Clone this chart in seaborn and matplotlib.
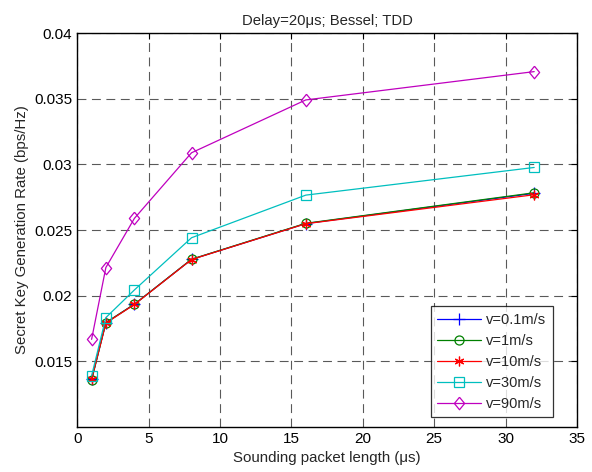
import numpy as np
import pandas as pd
import matplotlib
matplotlib.use("Agg")
import matplotlib.pyplot as plt
import seaborn as sns

sns.set_style("white")
plt.rcParams['font.family'] = ['Liberation Sans', 'DejaVu Sans']

# packet lengths (us)
packet_len = [1, 2, 4, 8, 16, 32]

# secret key generation rate per speed
rate_v01 = [0.01360, 0.01793, 0.01934, 0.02276, 0.02549, 0.02780]
rate_v1 = [0.01355, 0.01794, 0.01934, 0.02277, 0.02551, 0.02784]
rate_v10 = [0.01362, 0.01790, 0.01932, 0.02275, 0.02548, 0.02769]
rate_v30 = [0.01388, 0.01832, 0.02043, 0.02441, 0.02766, 0.02977]
rate_v90 = [0.01666, 0.02214, 0.02589, 0.03089, 0.03492, 0.03708]

labels = ['v=0.1m/s', 'v=1m/s', 'v=10m/s', 'v=30m/s', 'v=90m/s']
series = [rate_v01, rate_v1, rate_v10, rate_v30, rate_v90]
colors = [(0, 0, 1), (0, 0.5, 0), (1, 0, 0), (0, 0.75, 0.75), (0.75, 0, 0.75)]

# matlab style diamond (a bit taller than wide) and asterisk
diamond = [(0, 1), (0.82, 0), (0, -1), (-0.82, 0), (0, 1)]
markers = ['+', 'o', (6, 2, 0), 's', diamond]
msizes = [8, 6.5, 7, 7, 9]

fig = plt.figure(figsize=(5.92, 4.72), dpi=100)
ax = fig.add_axes([0.1306, 0.096, 0.8441, 0.8334])

for lab, vals, c, m, ms in zip(labels, series, colors, markers, msizes):
    df = pd.DataFrame({'x': packet_len, 'y': vals})
    sns.lineplot(data=df, x='x', y='y', ax=ax, color=c, marker=m, markersize=ms,
                 markerfacecolor='none', markeredgecolor=c, markeredgewidth=0.9,
                 linewidth=0.9, label=lab)

ax.set_xlim(0, 35)
ax.set_ylim(0.01, 0.04)
ax.set_xticks(np.arange(0, 36, 5))
ax.set_yticks([0.015, 0.02, 0.025, 0.03, 0.035, 0.04])
ax.set_yticklabels(['0.015', '0.02', '0.025', '0.03', '0.035', '0.04'])
ax.grid(True, color='black', linestyle=(0, (8, 5)), linewidth=0.8, alpha=0.65)
ax.tick_params(direction='in', top=True, right=True, labelsize=11, length=4,
               colors='black')
for sp in ax.spines.values():
    sp.set_color('black')
    sp.set_linewidth(1.0)

ax.set_xlabel('Sounding packet length (\u03bcs)', fontsize=10.8)
ax.set_ylabel('Secret Key Generation Rate (bps/Hz)', fontsize=10.8)
ax.set_title('Delay=20\u03bcs; Bessel; TDD', fontsize=10.7)

leg = ax.legend(loc='lower left', bbox_to_anchor=(0.7072, 0.024), borderaxespad=0,
                fontsize=10.5, frameon=True, fancybox=False, edgecolor='black',
                handlelength=3.0, handletextpad=0.35, labelspacing=0.48,
                borderpad=0.45)
leg.get_frame().set_linewidth(0.9)

fig.savefig('out.png', dpi=100)
